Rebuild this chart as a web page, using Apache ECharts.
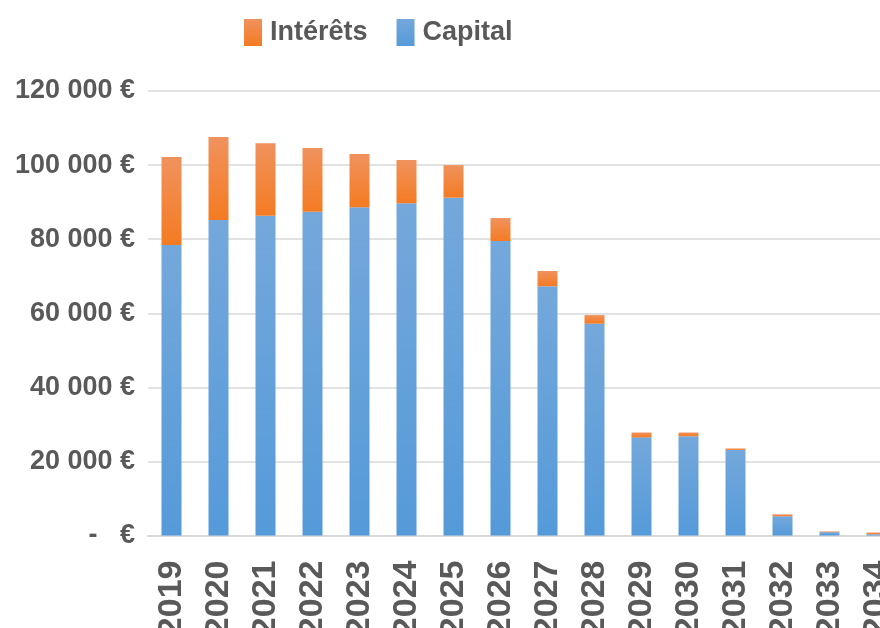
<!DOCTYPE html>
<html><head><meta charset="utf-8">
<script src="https://cdn.jsdelivr.net/npm/echarts@6/dist/echarts.min.js"></script>
<style>html,body{margin:0;padding:0;background:#fff;overflow:hidden}#c{width:880px;height:628px}</style>
</head><body><div id="c"></div>
<script>
const categories = ['2019','2020','2021','2022','2023','2024','2025','2026','2027','2028','2029','2030','2031','2032','2033','2034'];
const capital = [78400,85200,86300,87400,88600,89700,91200,79500,67300,57200,26500,26800,23100,5200,900,350];
const interets = [23800,22400,19600,17200,14400,11700,8800,6200,4100,2300,1300,1000,400,500,200,450];
const yTicks = {min:0, max:120000, interval:20000};

const font = "'Liberation Sans', Arial, sans-serif";
const grad = (top, bottom) => new echarts.graphic.LinearGradient(0,0,0,1,[{offset:0,color:top},{offset:1,color:bottom}]);
const fmt = v => v === 0 ? '-   €' : String(v).replace(/\B(?=(\d{3})+(?!\d))/g,' ') + ' €';
const chart = echarts.init(document.getElementById('c'));
chart.setOption({
  animation:false,
  legend:{
    data:['Intérêts','Capital'], top:14, left:239, itemWidth:18, itemHeight:27, itemGap:29,
    icon:'rect',
    textStyle:{fontFamily:font, fontWeight:'bold', fontSize:27, color:'#595959', padding:[0,0,0,3]}
  },
  grid:{left:148, width:752, top:91, height:444.5, containLabel:false, outerBoundsMode:'none'},
  xAxis:{
    type:'category', data:categories,
    axisLine:{lineStyle:{color:'#D9D9D9', width:2}}, axisTick:{show:false},
    axisLabel:{rotate:90, margin:25, interval:0, fontFamily:font, fontWeight:'bold', fontSize:34, color:'#595959'}
  },
  yAxis:{
    type:'value', min:yTicks.min, max:yTicks.max, interval:yTicks.interval,
    axisLine:{show:false}, axisTick:{show:false},
    splitLine:{lineStyle:{color:'#D9D9D9', width:1.5}},
    axisLabel:{formatter:fmt, margin:13, fontFamily:font, fontWeight:'bold', fontSize:27, color:'#595959'}
  },
  series:[
    {name:'Capital', type:'bar', stack:'t', data:capital, barWidth:20,
     itemStyle:{color:grad('#74A8DB','#559AD9')}},
    {name:'Intérêts', type:'bar', stack:'t', data:interets, barWidth:20,
     itemStyle:{color:grad('#F0925E','#F47B22')}}
  ]
});
</script></body></html>
